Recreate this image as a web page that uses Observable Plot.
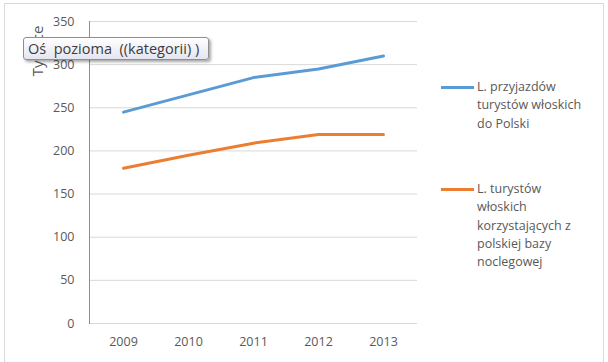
<!DOCTYPE html>
<html>
<head>
<meta charset="utf-8">
<script src="https://cdn.jsdelivr.net/npm/d3@7"></script>
<script src="https://cdn.jsdelivr.net/npm/@observablehq/plot@0.6"></script>
<style>
  html, body { margin: 0; padding: 0; background: #fff; }
  #wrap { position: relative; width: 608px; height: 362px; overflow: hidden; font-family: "Open Sans", "Liberation Sans", sans-serif; }
  #frame { position: absolute; left: 4px; top: 3px; width: 600px; height: 370px; border: 1px solid #d9d9d9; box-sizing: border-box; }
  #chart { position: absolute; left: 0; top: 0; }
  .leg { position: absolute; left: 441px; font-size: 12.5px; color: #595959; line-height: 18.3px; }
  .leg .sw { position: absolute; left: 0; top: 8px; width: 33px; height: 3px; }
  .leg .tx { position: absolute; left: 36px; top: 0; white-space: nowrap; }
  #ytitle { position: absolute; left: 37px; top: 51px; transform: translate(-50%, -50%) rotate(-90deg); font-size: 15px; color: #595959; white-space: nowrap; }
  #tip { position: absolute; left: 23px; top: 37px; width: 186px; height: 23px; box-sizing: border-box; border: 1px solid #8e8f8f; border-radius: 3px; background: linear-gradient(#ffffff, #e4e5f0); box-shadow: 2px 2px 3px rgba(0,0,0,0.35); font-size: 14.5px; color: #3c3c3c; line-height: 21px; padding-left: 4px; white-space: pre; }
</style>
</head>
<body>
<div id="wrap">
  <div id="frame"></div>
  <div id="chart"></div>
  <div id="ytitle">Tysiące</div>
  <div id="tip">Oś  pozioma  ((kategorii) )</div>
  <div class="leg" style="top:78px"><div class="sw" style="background:#5b9bd5"></div><div class="tx">L. przyjazdów<br>turystów włoskich<br>do Polski</div></div>
  <div class="leg" style="top:180px"><div class="sw" style="background:#ed7d31"></div><div class="tx">L. turystów<br>włoskich<br>korzystających z<br>polskiej bazy<br>noclegowej</div></div>
</div>
<script>
const years = ["2009", "2010", "2011", "2012", "2013"];
const arrivals = [245, 265, 285, 295, 310];
const lodging = [180, 195, 209, 219, 219];
const yTicks = [0, 50, 100, 150, 200, 250, 300, 350];
const seriesNames = ["L. przyjazdów turystów włoskich do Polski", "L. turystów włoskich korzystających z polskiej bazy noclegowej"];

const data = [
  ...years.map((y, i) => ({year: y, value: arrivals[i], series: seriesNames[0]})),
  ...years.map((y, i) => ({year: y, value: lodging[i], series: seriesNames[1]}))
];

const chart = Plot.plot({
  width: 608,
  height: 362,
  marginLeft: 89,
  marginRight: 191,
  marginTop: 21,
  marginBottom: 39,
  style: {fontFamily: "'Open Sans', 'Liberation Sans', sans-serif", fontSize: "12.5px", color: "#595959", background: "transparent"},
  x: {type: "point", domain: years, padding: 0.5, label: null},
  y: {domain: [0, 350], ticks: yTicks, label: null},
  color: {domain: seriesNames, range: ["#5b9bd5", "#ed7d31"]},
  marks: [
    Plot.gridY(yTicks, {stroke: "#d9d9d9", strokeOpacity: 1, strokeWidth: 1}),
    Plot.axisY(yTicks, {tickSize: 0, tickPadding: 15, fontSize: 12.5, fill: "#595959"}),
    Plot.axisX(years, {tickSize: 0, tickPadding: 14, fontSize: 12.5, fill: "#595959"}),
    Plot.frame({anchor: "left", stroke: "#5b9bd5", strokeWidth: 1}),
    Plot.lineY(data, {x: "year", y: "value", stroke: "series", strokeWidth: 3, curve: "linear"})
  ]
});
document.getElementById("chart").append(chart);
</script>
</body>
</html>
